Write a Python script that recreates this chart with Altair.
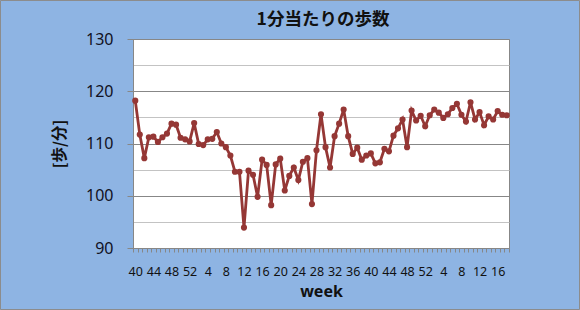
import json
import altair as alt
import pandas as pd

# x categories: week numbers (one point per week)
weeks = [40, 41, 42, 43, 44, 45, 46, 47, 48, 49, 50, 51, 52,
         1, 2, 3, 4, 5, 6, 7, 8, 9, 10, 11, 12, 13, 14, 15, 16, 17, 18, 19, 20,
         21, 22, 23, 24, 25, 26, 27, 28, 29, 30, 31, 32, 33, 34, 35, 36, 37, 38,
         39, 40, 41, 42, 43, 44, 45, 46, 47, 48, 49, 50, 51, 52,
         1, 2, 3, 4, 5, 6, 7, 8, 9, 10, 11, 12, 13, 14, 15, 16, 17, 18]

# steps per minute
steps = [118.2, 111.7, 107.2, 111.2, 111.3, 110.3, 111.2, 111.9, 113.8, 113.6,
         111.1, 110.8, 110.4, 113.9, 109.9, 109.7, 110.8, 110.9, 112.2, 110.0,
         109.3, 107.7, 104.6, 104.6, 93.9, 104.8, 104.0, 99.8, 106.9, 105.9,
         98.2, 106.0, 107.1, 101.0, 103.8, 105.4, 103.0, 106.5, 107.2, 98.4,
         108.7, 115.6, 109.3, 105.4, 111.4, 113.8, 116.5, 111.4, 108.0, 109.2,
         106.9, 107.7, 108.1, 106.2, 106.4, 109.0, 108.5, 111.5, 112.9, 114.6,
         109.3, 116.3, 114.4, 115.3, 113.3, 115.4, 116.5, 115.9, 114.9, 115.6,
         116.8, 117.6, 115.5, 114.2, 117.9, 114.6, 116.0, 113.5, 115.2, 114.6,
         116.2, 115.5, 115.4]

y_ticks = [90, 95, 100, 105, 110, 115, 120, 125, 130]

n = len(steps)
df = pd.DataFrame({"idx": list(range(n)), "week": weeks, "steps": steps})

x_vals = [k / 2 - 0.5 for k in range(2 * n + 1)]
label_arr = json.dumps(weeks)

LINE = "#953735"
MAJOR = "#878787"
MINOR = "#C3C3C3"

x_axis = alt.Axis(
    values=x_vals,
    grid=False,
    labelExpr=f"(datum.value % 4 === 0) ? {label_arr}[datum.value] : ''",
    labelOverlap=False,
    labelFlush=False,
    tickSize=4,
    tickColor=MAJOR,
    tickOpacity={"condition": {"test": "abs(datum.value - floor(datum.value) - 0.5) < 0.01", "value": 1}, "value": 0},
    labelPadding=13,
    labelFontSize=12.5,
    labelColor="#111111",
    labelFont="Noto Sans",
    domainColor=MAJOR,
    title="week",
    titleFont="Noto Sans",
    titleFontSize=16,
    titleFontWeight="bold",
    titleColor="#111111",
    titleBaseline="middle",
    titleY=43,
)

y_axis = alt.Axis(
    values=y_ticks,
    labelExpr="datum.value % 10 === 0 ? datum.label : ''",
    gridColor={"condition": {"test": "datum.value % 10 === 0", "value": MAJOR}, "value": MINOR},
    tickOpacity={"condition": {"test": "datum.value % 10 === 0", "value": 1}, "value": 0},
    tickColor=MAJOR,
    tickSize=6,
    labelPadding=14,
    labelFontSize=16,
    labelColor="#111122",
    labelFont="Noto Sans",
    domainColor=MAJOR,
    title="[歩/分]",
    titleFont="Noto Sans CJK JP",
    titleFontSize=15.5,
    titleFontWeight="bold",
    titleColor="#111111",
    titleBaseline="middle",
    titleX=-74,
    titleY=104.5,
    titleAngle=270,
)

base = alt.Chart(df).encode(
    x=alt.X("idx:Q", scale=alt.Scale(domain=[-0.5, n - 0.5], nice=False, zero=False), axis=x_axis),
    y=alt.Y("steps:Q", scale=alt.Scale(domain=[90, 130], nice=False, zero=False), axis=y_axis),
)

line = base.mark_line(color=LINE, strokeWidth=2.8)
pts = base.mark_point(filled=True, color=LINE, size=38, opacity=1, shape="circle")

# outer chart frame (decoration)
frame = alt.Chart(pd.DataFrame({"f": [0]})).mark_rect(
    fill=None, stroke="#8C8C8C", strokeWidth=1
).encode(
    x=alt.value(-132.5), x2=alt.value(446.5),
    y=alt.value(-38.5), y2=alt.value(270.5),
)

chart = (line + pts + frame).properties(
    width=376,
    height=209,
    background="#8EB4E3",
    padding={"left": 133, "top": 39, "right": 71, "bottom": 62},
    autosize=alt.AutoSizeParams(type="none"),
    title=alt.TitleParams(
        text="1分当たりの歩数",
        font="Noto Sans CJK JP",
        fontSize=17.5,
        fontWeight="bold",
        color="#111111",
        anchor="middle",
        dx=2,
        dy=28,
        offset=0,
    ),
).configure_view(
    fill="white", stroke=MAJOR, strokeWidth=1
)

chart.save("out.html", embed_options={"renderer": "svg", "actions": False})
